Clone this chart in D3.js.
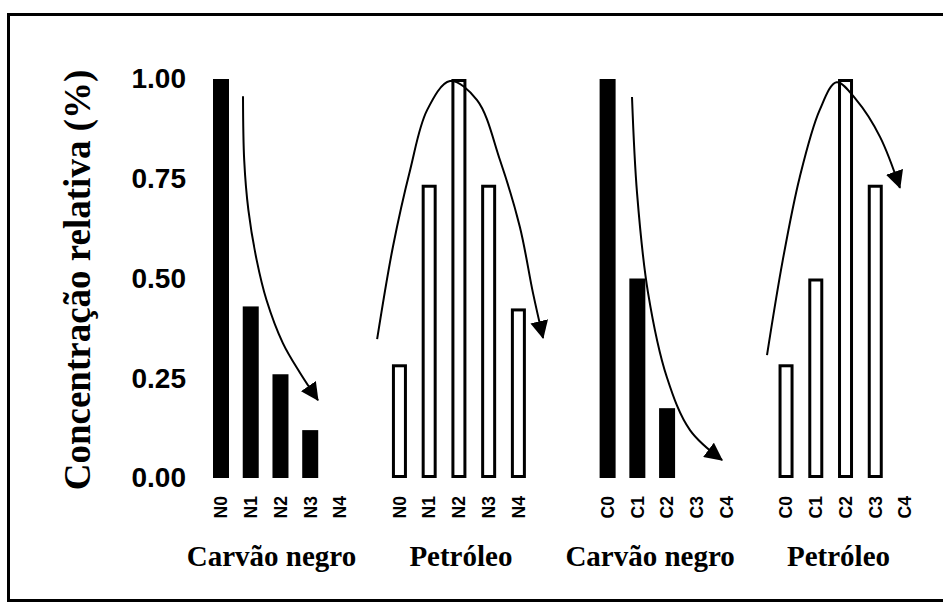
<!DOCTYPE html>
<html>
<head>
<meta charset="utf-8">
<script src="https://cdn.jsdelivr.net/npm/d3@7"></script>
<style>
  html, body { margin: 0; padding: 0; background: #fff; }
  svg { display: block; }
</style>
</head>
<body>
<script>
// ---------- DATA ----------
const groupNames = ["Carvão negro", "Petróleo", "Carvão negro", "Petróleo"];
const ticksN = ["N0", "N1", "N2", "N3", "N4"];
const ticksC = ["C0", "C1", "C2", "C3", "C4"];
const carvaoN = [1.00, 0.43, 0.26, 0.12, 0];
const petroleoN = [0.285, 0.735, 1.00, 0.735, 0.425];
const carvaoC = [1.00, 0.50, 0.175, 0, 0];
const petroleoC = [0.285, 0.50, 1.00, 0.735, 0];
const yTicks = [0, 0.25, 0.50, 0.75, 1.00];
const yLabel = "Concentração relativa (%)";
// trend arrows, in data units: [slot position, relative value]
const arrow1 = [[0.74,0.957],[0.78,0.797],[0.92,0.672],[1.20,0.546],[1.53,0.446],[2.08,0.338],[2.66,0.263],[3.26,0.195]];
const arrow2 = [[5.25,0.348],[5.78,0.579],[6.36,0.772],[6.93,0.922],[7.70,0.995],[8.61,0.947],[9.38,0.797],[10.05,0.629],[10.49,0.464],[10.83,0.351]];
const arrow3 = [[13.82,0.955],[13.99,0.714],[14.36,0.464],[14.99,0.253],[15.77,0.120],[16.85,0.045]];
const arrow4 = [[18.36,0.308],[18.89,0.546],[19.46,0.754],[20.13,0.922],[20.70,0.992],[21.37,0.947],[22.16,0.855],[22.83,0.727]];

// ---------- LAYOUT ----------
const W = 943, H = 607;
const groupStart = [0, 6, 13, 19];
const groupLabelShift = [-9, 2, -17, -7];
const series = [
  { vals: carvaoN, ticks: ticksN, filled: true },
  { vals: petroleoN, ticks: ticksN, filled: false },
  { vals: carvaoC, ticks: ticksC, filled: true },
  { vals: petroleoC, ticks: ticksC, filled: false }
];

const svg = d3.select("body").append("svg").attr("width", W).attr("height", H);

// frame
svg.append("rect")
  .attr("x", 8.5).attr("y", 14.5)
  .attr("width", W + 10).attr("height", 586)
  .attr("fill", "none").attr("stroke", "#000").attr("stroke-width", 3);

const x = d3.scaleLinear().domain([0, 23]).range([221, 905]);
const y = d3.scaleLinear().domain([0, 1]).range([478, 79]);

// y tick labels (no axis line)
const yAxis = d3.axisLeft(y).tickValues(yTicks).tickFormat(d3.format(".2f")).tickSize(0).tickPadding(0);
const gy = svg.append("g").attr("transform", "translate(186,0)").call(yAxis);
gy.select(".domain").remove();
gy.selectAll("text")
  .attr("font-family", "'Liberation Sans', Arial, sans-serif")
  .attr("font-weight", "bold")
  .attr("font-size", 28)
  .attr("fill", "#000");

// y axis title
svg.append("text")
  .attr("transform", "translate(90,280) rotate(-90)")
  .attr("text-anchor", "middle")
  .attr("font-family", "'Liberation Serif', 'Times New Roman', serif")
  .attr("font-weight", "bold")
  .attr("font-size", 37)
  .attr("fill", "#000")
  .text(yLabel);

// bars
series.forEach((s, g) => {
  const rows = s.vals.map((v, i) => ({ v, i, slot: groupStart[g] + i, t: s.ticks[i] }));
  const gg = svg.append("g");
  const drawn = rows.filter(d => d.v > 0);
  if (s.filled) {
    gg.selectAll("rect").data(drawn).join("rect")
      .attr("x", d => x(d.slot) - 8)
      .attr("width", 16)
      .attr("y", d => y(d.v))
      .attr("height", d => y(0) - y(d.v))
      .attr("fill", "#000");
  } else {
    gg.selectAll("rect").data(drawn).join("rect")
      .attr("x", d => x(d.slot) - 6)
      .attr("width", 12)
      .attr("y", d => y(d.v) + 1.5)
      .attr("height", d => y(0) - y(d.v) - 3)
      .attr("fill", "#fff")
      .attr("stroke", "#000")
      .attr("stroke-width", 3);
  }
  // category tick labels
  gg.selectAll("text.tick").data(rows).join("text")
    .attr("class", "tick")
    .attr("transform", d => `translate(${x(d.slot)},496) rotate(-90)`)
    .attr("text-anchor", "end")
    .attr("dy", "0.36em")
    .attr("font-family", "'Liberation Sans', Arial, sans-serif")
    .attr("font-weight", "bold")
    .attr("font-size", 17.5)
    .attr("fill", "#000")
    .text(d => d.t);
  // group label
  svg.append("text")
    .attr("x", x(groupStart[g] + 2) + groupLabelShift[g])
    .attr("y", 566)
    .attr("text-anchor", "middle")
    .attr("font-family", "'Liberation Serif', 'Times New Roman', serif")
    .attr("font-weight", "bold")
    .attr("font-size", 29)
    .attr("fill", "#000")
    .text(groupNames[g]);
});

// arrow marker
svg.append("defs").append("marker")
  .attr("id", "ah")
  .attr("markerUnits", "userSpaceOnUse")
  .attr("viewBox", "0 0 18 18")
  .attr("refX", 17).attr("refY", 9)
  .attr("markerWidth", 18).attr("markerHeight", 18)
  .attr("orient", "auto")
  .append("path")
  .attr("d", "M0,0 L18,9 L0,18 Z")
  .attr("fill", "#000");

const line = d3.line().x(d => x(d[0])).y(d => y(d[1])).curve(d3.curveCatmullRom.alpha(0.5));
[arrow1, arrow2, arrow3, arrow4].forEach(a => {
  svg.append("path")
    .attr("d", line(a))
    .attr("fill", "none")
    .attr("stroke", "#000")
    .attr("stroke-width", 2)
    .attr("marker-end", "url(#ah)");
});
</script>
</body>
</html>
